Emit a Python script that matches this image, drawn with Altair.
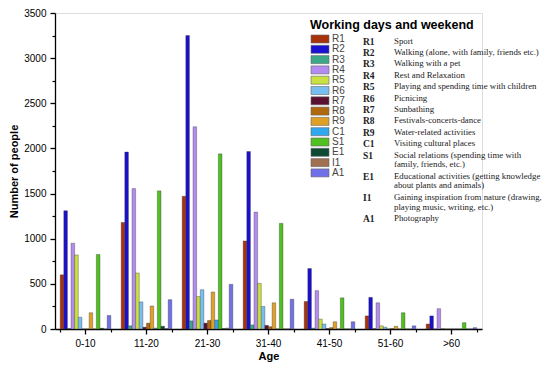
import altair as alt
import pandas as pd

ages = ["0-10", "11-20", "21-30", "31-40", "41-50", "51-60", ">60"]
series = ["R1", "R2", "R3", "R4", "R5", "R6", "R7", "R8", "R9", "C1", "S1", "E1", "I1", "A1"]

R1 = [600, 1180, 1470, 975, 305, 145, 55]
R2 = [1310, 1960, 3250, 1965, 670, 350, 145]
R3 = [5, 35, 90, 45, 10, 5, 0]
R4 = [950, 1555, 2240, 1295, 425, 290, 225]
R5 = [820, 620, 360, 505, 110, 35, 5]
R6 = [130, 300, 435, 250, 55, 20, 0]
R7 = [0, 20, 65, 40, 5, 0, 0]
R8 = [0, 65, 95, 25, 15, 5, 0]
R9 = [180, 255, 410, 290, 80, 30, 0]
C1 = [0, 10, 100, 0, 0, 0, 0]
S1 = [825, 1530, 1940, 1170, 345, 180, 70]
E1 = [8, 30, 5, 0, 0, 0, 0]
I1 = [0, 5, 10, 0, 0, 0, 0]
A1 = [150, 325, 495, 330, 80, 35, 15]

descriptions = [
    "Sport",
    "Walking (alone, with family, friends etc.)",
    "Walking with a pet",
    "Rest and Relaxation",
    "Playing and spending time with children",
    "Picnicing",
    "Sunbathing",
    "Festivals-concerts-dance",
    "Water-related activities",
    "Visiting cultural places",
    "Social relations (spending time with\nfamily, friends, etc.)",
    "Educational activities (getting knowledge\nabout plants and animals)",
    "Gaining inspiration from nature (drawing,\nplaying music, writing, etc.)",
    "Photography",
]

colors = ["#A8320A", "#1A10D0", "#3CA888", "#B48CF0", "#C8E040", "#78BEF0", "#5A1030",
          "#B0680E", "#E0A028", "#30A8F0", "#50C020", "#0C4A34", "#A07050", "#7070E8"]

values = [R1, R2, R3, R4, R5, R6, R7, R8, R9, C1, S1, E1, I1, A1]
rows = []
for s, vals in zip(series, values):
    for a, v in zip(ages, vals):
        rows.append({"Age": a, "Series": s, "Value": v})
df = pd.DataFrame(rows)

# legend table
leg_rows = []
extra = 0
for i, (s, d) in enumerate(zip(series, descriptions)):
    leg_rows.append({"Series": s, "Desc": d, "idx": i, "extra": extra})
    extra += d.count("\n")
leg = pd.DataFrame(leg_rows)

FONT = "Liberation Sans"
SERIF = "Liberation Serif"
W, H = 427, 316

color_scale = alt.Scale(domain=series, range=colors)
x_scale = alt.Scale(paddingInner=0.17, paddingOuter=0.085)
y_scale = alt.Scale(domain=[0, 3500], nice=False)
ident = alt.Scale(domain=[0, H], range=[0, H])

bars = alt.Chart(df).mark_bar(stroke="#333333", strokeWidth=0.5, strokeOpacity=0.7).encode(
    x=alt.X("Age:N", sort=ages, scale=x_scale,
            axis=alt.Axis(title="Age", labelAngle=0, tickSize=5, labelPadding=4,
                          titlePadding=2, domainColor="black", tickColor="black",
                          domainWidth=1.3, tickWidth=1.3)),
    xOffset=alt.XOffset("Series:N", sort=series, scale=alt.Scale(paddingInner=0, paddingOuter=0)),
    y=alt.Y("Value:Q", scale=y_scale,
            axis=alt.Axis(title="Number of people", values=list(range(0, 3501, 500)),
                          format="d", grid=False, tickSize=5, labelPadding=4,
                          titlePadding=4, domainColor="black", tickColor="black",
                          domainWidth=1.3, tickWidth=1.3)),
    color=alt.Color("Series:N", scale=color_scale, legend=None),
)

minor = alt.Chart(df).mark_bar(opacity=0).encode(
    x=alt.X("Age:N", sort=ages, scale=x_scale,
            axis=alt.Axis(orient="bottom", tickBand="extent", labels=False, domain=False,
                          tickSize=3, title=None, tickColor="black", tickWidth=1.2)),
    y=alt.Y("Value:Q", scale=y_scale,
            axis=alt.Axis(orient="left", values=list(range(250, 3500, 500)), labels=False,
                          domain=False, tickSize=3, title=None, grid=False,
                          tickColor="black", tickWidth=1.2)),
)

base_leg = alt.Chart(leg).transform_calculate(
    mid="26 + datum.idx * 10.3",
    top="22 + datum.idx * 10.3",
    bot="30 + datum.idx * 10.3",
    dtop="23.5 + datum.idx * 11.4 + datum.extra * 9.8",
    Dlines="split(datum.Desc, '\\n')",
)

squares = base_leg.mark_rect(stroke="#666666", strokeWidth=0.6).encode(
    x=alt.value(256), x2=alt.value(274),
    y=alt.Y("top:Q", scale=ident, axis=None), y2="bot:Q",
    color=alt.Color("Series:N", scale=color_scale, legend=None),
)

labels = base_leg.mark_text(align="left", baseline="middle", font=FONT, fontSize=10,
                            color="#444444").encode(
    x=alt.value(277), y=alt.Y("mid:Q", scale=ident, axis=None), text="Series:N")

codes = base_leg.mark_text(align="left", baseline="top", font=SERIF, fontSize=9.5,
                           fontWeight="bold", color="#222222").encode(
    x=alt.value(308), y=alt.Y("dtop:Q", scale=ident, axis=None), text="Series:N")

descs = base_leg.mark_text(align="left", baseline="top", font=SERIF, fontSize=8.8,
                           lineHeight=9.8, color="#222222").encode(
    x=alt.value(339), y=alt.Y("dtop:Q", scale=ident, axis=None), text="Dlines:N")

title = alt.Chart(pd.DataFrame({"t": ["Working days and weekend"]})).mark_text(
    align="left", baseline="middle", font=FONT, fontSize=12.5, fontWeight="bold",
    color="black").encode(x=alt.value(255), y=alt.value(12), text="t:N")

chart = alt.layer(bars, minor, squares, labels, codes, descs, title).resolve_scale(
    y="independent").resolve_axis(x="independent", y="independent").properties(
    width=W, height=H,
    autosize=alt.AutoSizeParams(type="none"),
    padding={"left": 47, "top": 5, "right": 60, "bottom": 36},
).configure_view(stroke=None).configure_axis(
    labelFont=FONT, labelFontSize=11.5, labelColor="black",
    titleFont=FONT, titleFontSize=13.5, titleFontWeight="bold", titleColor="black",
).configure(background="white")

chart.save("out.html", embed_options={"renderer": "svg", "actions": False})
